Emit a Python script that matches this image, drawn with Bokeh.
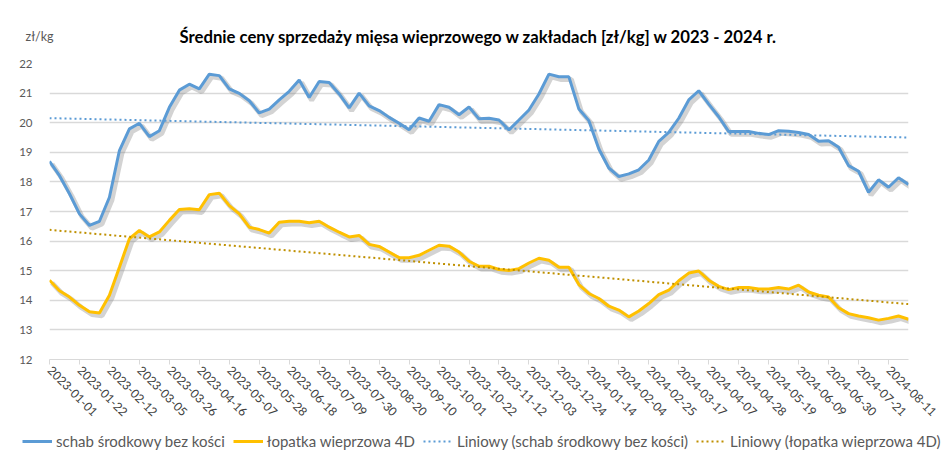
import numpy as np
import pandas as pd
from bokeh.plotting import figure
from bokeh.layouts import column
from bokeh.models import Legend, LegendItem, Label, FixedTicker, Range1d
from bokeh.embed import file_html
from bokeh.resources import INLINE

# ---- data ----
weeks = pd.date_range("2023-01-01", periods=87, freq="7D").strftime("%Y-%m-%d").tolist()

schab = [18.69, 18.21, 17.60, 16.92, 16.53, 16.67, 17.48, 19.06, 19.79, 19.98,
         19.53, 19.73, 20.52, 21.10, 21.30, 21.14, 21.64, 21.59, 21.14, 20.99,
         20.74, 20.33, 20.46, 20.77, 21.06, 21.44, 20.85, 21.39, 21.36, 20.97,
         20.50, 21.00, 20.57, 20.41, 20.18, 19.98, 19.76, 20.16, 20.05, 20.61,
         20.52, 20.27, 20.53, 20.13, 20.15, 20.09, 19.76, 20.09, 20.43, 20.97,
         21.64, 21.55, 21.55, 20.46, 20.07, 19.11, 18.47, 18.18, 18.27, 18.41,
         18.74, 19.37, 19.67, 20.15, 20.77, 21.08, 20.63, 20.20, 19.70, 19.70,
         19.70, 19.64, 19.60, 19.73, 19.71, 19.67, 19.60, 19.37, 19.39, 19.17,
         18.55, 18.36, 17.65, 18.07, 17.82, 18.14, 17.91]

lopatka = [14.68, 14.32, 14.11, 13.83, 13.61, 13.57, 14.17, 15.12, 16.08, 16.36,
           16.14, 16.31, 16.70, 17.07, 17.09, 17.06, 17.57, 17.62, 17.20, 16.92,
           16.47, 16.39, 16.27, 16.64, 16.67, 16.67, 16.62, 16.67, 16.47, 16.30,
           16.14, 16.19, 15.89, 15.82, 15.63, 15.44, 15.44, 15.52, 15.69, 15.86,
           15.83, 15.63, 15.32, 15.15, 15.15, 15.04, 15.01, 15.07, 15.26, 15.42,
           15.35, 15.12, 15.12, 14.53, 14.23, 14.06, 13.80, 13.67, 13.44, 13.64,
           13.89, 14.19, 14.34, 14.66, 14.92, 14.99, 14.68, 14.47, 14.36, 14.43,
           14.43, 14.38, 14.38, 14.43, 14.38, 14.51, 14.28, 14.17, 14.11, 13.75,
           13.55, 13.47, 13.41, 13.33, 13.39, 13.47, 13.36]

tick_labels = ["2023-01-01", "2023-01-22", "2023-02-12", "2023-03-05", "2023-03-26",
               "2023-04-16", "2023-05-07", "2023-05-28", "2023-06-18", "2023-07-09",
               "2023-07-30", "2023-08-20", "2023-09-10", "2023-10-01", "2023-10-22",
               "2023-11-12", "2023-12-03", "2023-12-24", "2024-01-14", "2024-02-04",
               "2024-02-25", "2024-03-17", "2024-04-07", "2024-04-28", "2024-05-19",
               "2024-06-09", "2024-06-30", "2024-07-21", "2024-08-11"]

series_names = ["schab środkowy bez kości", "łopatka wieprzowa 4D",
                "Liniowy (schab środkowy bez kości)", "Liniowy (łopatka wieprzowa 4D)"]
title_text = "Średnie ceny sprzedaży mięsa wieprzowego w zakładach [zł/kg] w 2023 - 2024 r."
unit_text = "zł/kg"

# ---- derived ----
x = np.arange(len(weeks))
tick_pos = [weeks.index(t) for t in tick_labels]
trend_s = np.polyval(np.polyfit(x, schab, 1), x)
trend_l = np.polyval(np.polyfit(x, lopatka, 1), x)

FONT = "Lato"
BLUE = "#5b9bd5"
GOLD = "#ffc000"
GOLD_T = "#bf9000"
GRID = "#d9d9d9"
TXT = "#595959"
W = 949


def bare(fig):
    fig.outline_line_color = None
    fig.background_fill_color = "white"
    fig.border_fill_color = "white"
    fig.min_border_left = 0
    fig.min_border_right = 0
    fig.min_border_top = 0
    fig.min_border_bottom = 0
    fig.xgrid.visible = False
    fig.ygrid.visible = False
    if "frame_align" in fig.properties():
        fig.frame_align = False
    return fig


# ---- header (title + unit) ----
HH = 50
header = bare(figure(width=W, height=HH, output_backend="svg", toolbar_location=None,
                     x_range=Range1d(0, W), y_range=Range1d(0, HH),
                     x_axis_type=None, y_axis_type=None))
header.add_layout(Label(x=478.5, y=HH - 36, text=title_text, text_font=FONT,
                        text_font_size="16.7px", text_font_style="bold",
                        text_color="#000000", text_align="center",
                        text_baseline="middle"))
header.add_layout(Label(x=25, y=HH - 36, text=unit_text, text_font=FONT,
                        text_font_size="12.5px", text_color=TXT,
                        text_align="left", text_baseline="middle"))

# ---- main chart ----
MH = 378
p = figure(width=W, height=MH, output_backend="svg", toolbar_location=None,
           x_range=Range1d(0, len(weeks) - 1), y_range=Range1d(12, 22),
           min_border_left=49, min_border_right=41, min_border_top=63 - HH,
           min_border_bottom=HH + MH - 359)
p.outline_line_color = None
p.background_fill_color = "white"
p.border_fill_color = "white"
if "frame_align" in p.properties():
    p.frame_align = False

p.xaxis.ticker = FixedTicker(ticks=tick_pos)
p.xaxis.major_label_overrides = {i: t for i, t in zip(tick_pos, tick_labels)}
p.xaxis.major_label_orientation = -np.pi / 4
p.xaxis.major_label_text_font = FONT
p.xaxis.major_label_text_font_size = "12px"
p.xaxis.major_label_text_color = "#404040"
p.xaxis.axis_line_color = GRID
p.xaxis.major_tick_line_color = GRID
p.xaxis.major_tick_in = 0
p.xaxis.major_tick_out = 5
p.xaxis.minor_tick_line_color = None
p.xaxis.major_label_standoff = 4

p.yaxis.ticker = FixedTicker(ticks=list(range(12, 23)))
p.yaxis.axis_line_color = None
p.yaxis.major_tick_line_color = None
p.yaxis.minor_tick_line_color = None
p.yaxis.major_label_text_font = FONT
p.yaxis.major_label_text_font_size = "11.5px"
p.yaxis.major_label_text_color = TXT
p.yaxis.major_label_standoff = 11

p.xgrid.grid_line_color = None
p.ygrid.grid_line_color = GRID
p.ygrid.grid_line_width = 1.3

dx, dy = 0.25, -0.09
p.line(x + dx, np.array(schab) + dy, line_color="#808080", line_width=5, line_alpha=0.35)
p.line(x + dx, np.array(lopatka) + dy, line_color="#808080", line_width=5, line_alpha=0.35)
p.line(x, schab, line_color=BLUE, line_width=3)
p.line(x, lopatka, line_color=GOLD, line_width=3)
p.line(x, trend_s, line_color=BLUE, line_width=2, line_dash="2 3")
p.line(x, trend_l, line_color=GOLD_T, line_width=2, line_dash="2 3")

# ---- legend strip ----
LH = 457 - HH - MH
lg = bare(figure(width=W, height=LH, output_backend="svg", toolbar_location=None,
                 x_range=Range1d(0, 1), y_range=Range1d(0, 1),
                 x_axis_type=None, y_axis_type=None))
styles = [dict(line_color=BLUE, line_width=3),
          dict(line_color=GOLD, line_width=3),
          dict(line_color=BLUE, line_width=2, line_dash="2 3"),
          dict(line_color=GOLD_T, line_width=2, line_dash="2 3")]
series = [schab, lopatka, trend_s, trend_l]
items = []
for name, ys, st in zip(series_names, series, styles):
    r = lg.line(x, ys, visible=False, **st)
    items.append(LegendItem(label=name, renderers=[r]))
legend = Legend(items=items, orientation="horizontal", location=(22, 7),
                glyph_width=30, glyph_height=14, label_standoff=4, spacing=8,
                label_height=14, padding=0, margin=0, border_line_color=None,
                background_fill_alpha=0, inactive_fill_alpha=0,
                label_text_font=FONT, label_text_font_size="15px",
                label_text_color=TXT)
lg.add_layout(legend, "center")

layout = column(header, p, lg, spacing=0)
open("out.html", "w").write(file_html(layout, INLINE))
